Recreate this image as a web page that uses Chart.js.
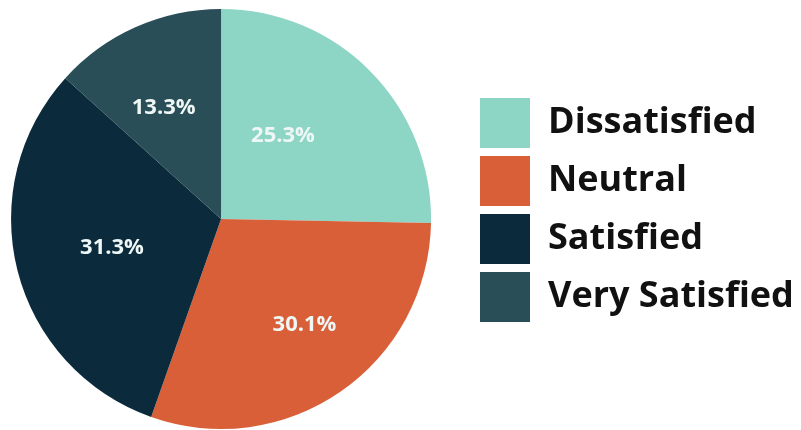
<!DOCTYPE html>
<html>
<head>
<meta charset="utf-8">
<script src="https://cdn.jsdelivr.net/npm/chart.js@4"></script>
<style>
  html, body { margin: 0; padding: 0; background: #fff; }
  #wrap { width: 801px; height: 430px; }
</style>
</head>
<body>
<div id="wrap"><canvas id="satisfactionChart"></canvas></div>
<script>
// Satisfaction survey shares (percent)
const categories = ['Dissatisfied', 'Neutral', 'Satisfied', 'Very Satisfied'];
const shares = [25.3, 30.1, 31.3, 13.3];
const sliceColors = ['#8dd5c5', '#d95f38', '#0b2a3b', '#294e57'];

// draw the percentage inside each slice
const sliceLabels = {
    id: 'sliceLabels',
    afterDatasetsDraw(chart, args, opts) {
        const ctx = chart.ctx;
        const meta = chart.getDatasetMeta(0);
        ctx.save();
        ctx.font = 'bold 22px "Open Sans", sans-serif';
        ctx.fillStyle = '#eef7f5';
        ctx.textAlign = 'center';
        ctx.textBaseline = 'middle';
        meta.data.forEach((arc, i) => {
            const p = arc.getProps(['x', 'y', 'startAngle', 'endAngle', 'outerRadius']);
            const mid = (p.startAngle + p.endAngle) / 2;
            const r = p.outerRadius * 0.58;
            const nudge = opts.nudges[i] || [0, 0];
            ctx.fillText(shares[i].toFixed(1) + '%',
                p.x + Math.cos(mid) * r + nudge[0],
                p.y + Math.sin(mid) * r + nudge[1]);
        });
        ctx.restore();
    }
};

// move the legend a bit away from the pie
const legendShift = {
    id: 'legendShift',
    afterLayout(chart) {
        const lg = chart.legend;
        const w = lg.width;
        lg.left = 472;
        lg.right = 472 + w;
        lg.top -= 9;
        lg.bottom -= 9;
    }
};

const ctx = document.getElementById('satisfactionChart').getContext('2d');
const satisfactionChart = new Chart(ctx, {
    type: 'pie',
    data: {
        labels: categories,
        datasets: [{
            data: shares,
            backgroundColor: sliceColors,
            borderWidth: 0
        }]
    },
    options: {
        responsive: true,
        maintainAspectRatio: false,
        animation: false,
        layout: {
            padding: { left: 11, top: 9, bottom: 1, right: 38 }
        },
        plugins: {
            tooltip: { enabled: false },
            sliceLabels: {
                nudges: [[-25, 2], [14, 6], [9, -1], [-8, 0]]
            },
            legend: {
                position: 'right',
                labels: {
                    boxWidth: 50,
                    boxHeight: 50,
                    padding: 8,
                    color: '#111111',
                    font: { family: '"Open Sans", sans-serif', size: 36, weight: 'bold' }
                }
            }
        }
    },
    plugins: [sliceLabels, legendShift]
});
</script>
</body>
</html>
